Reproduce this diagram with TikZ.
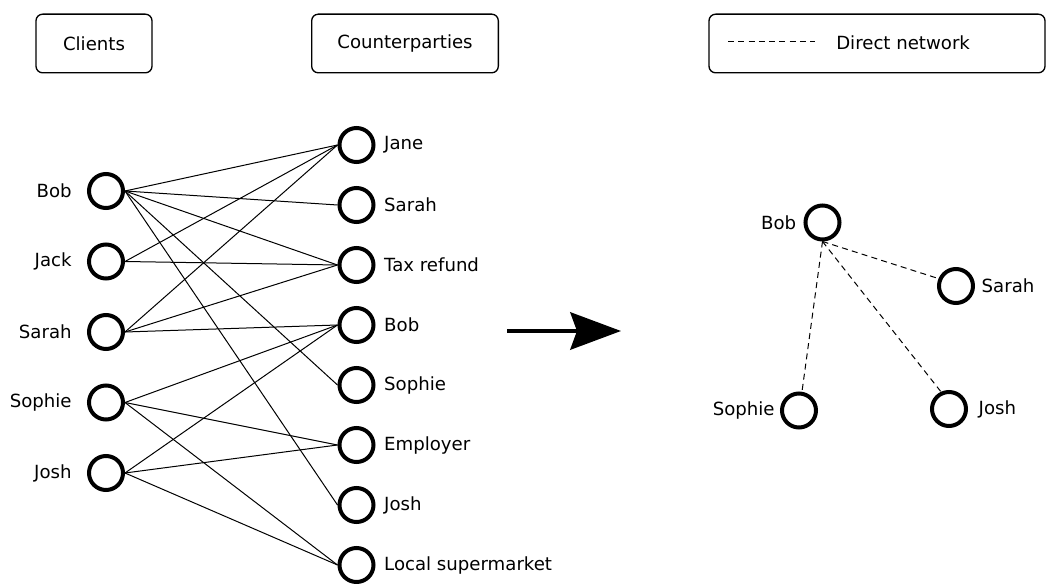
\documentclass[tikz,border=0pt]{standalone}
\usepackage{fontspec}
\setmainfont{DejaVu Sans}
\usepackage{tikz}
\usetikzlibrary{arrows.meta}
\tikzset{
  person/.style={circle,draw,line width=3pt,minimum size=25.5pt,inner sep=0pt},
  hdr/.style={draw,rounded corners=5pt,line width=1pt,minimum height=44pt},
  link/.style={line width=0.75pt},
  direct/.style={line width=0.75pt,dash pattern=on 4.5pt off 3.2pt}
}

\begin{document}
\begin{tikzpicture}[x=0.75pt,y=-0.75pt,every node/.style={font=\fontsize{13.6pt}{16pt}\selectfont}]
    \useasboundingbox (0,0) rectangle (1047,584);

    % Headers
    \node[hdr,minimum width=87pt] (hclients) at (94,43.5) {Clients};
    \node[hdr,minimum width=140pt] (hcounter) at (405,43.5) {Counterparties};
    \node[hdr,minimum width=252pt] (hlegend) at (877,43.5) {};
    \coordinate (legA) at (728,42);
    \coordinate (legB) at (815,42);
    \draw[direct] (legA) -- (legB);
    \node[anchor=west,inner sep=0pt] (legtxt) at (836,43) {Direct network};

    % Clients
    \foreach \nm/\txt/\y in {cb/Bob/191, cj/Jack/261.5, cs/Sarah/332, cso/Sophie/402.5, cjo/Josh/473}
        \node[person,label={[label distance=8pt]left:\txt}] (\nm) at (106,\y) {};

    % Counterparties
    \foreach \nm/\txt/\y in {rjane/Jane/145, rsarah/Sarah/205, rtax/Tax refund/265, rbob/Bob/325,
                             rsophie/Sophie/385, remp/Employer/445, rjosh/Josh/505, rshop/Local supermarket/565}
        \node[person,label={[label distance=3pt]right:\txt}] (\nm) at (356.5,\y) {};

    % Payments
    \foreach \a/\b in {cb/rjane, cb/rsarah, cb/rtax, cb/rsophie, cb/rjosh,
                       cj/rjane, cj/rtax,
                       cs/rjane, cs/rtax, cs/rbob,
                       cso/rbob, cso/remp, cso/rshop,
                       cjo/rbob, cjo/remp, cjo/rshop}
        \draw[link] (\a.east) -- (\b.west);

    % Transformation
    \coordinate (arrA) at (507,331);
    \coordinate (arrB) at (621,331);
    \draw[line width=3pt,-{Stealth[length=38pt,width=28pt,inset=5pt]}] (arrA) -- (arrB);

    % Direct network
    \node[person,label={[label distance=2pt]left:Bob}] (nbob) at (822.5,222.5) {};
    \node[person,label={[label distance=1.5pt]right:Sarah}] (nsarah) at (956,286) {};
    \node[person,label={[label distance=0.5pt]left:Sophie}] (nsophie) at (799,410.5) {};
    \node[person,label={[label distance=4.5pt]right:Josh}] (njosh) at (949,409) {};
    \draw[direct] (nbob.south) -- (nsarah.157);
    \draw[direct] (nbob.south) -- (njosh.115);
    \draw[direct] (nbob.south) -- (nsophie.81);
\end{tikzpicture}
\end{document}
